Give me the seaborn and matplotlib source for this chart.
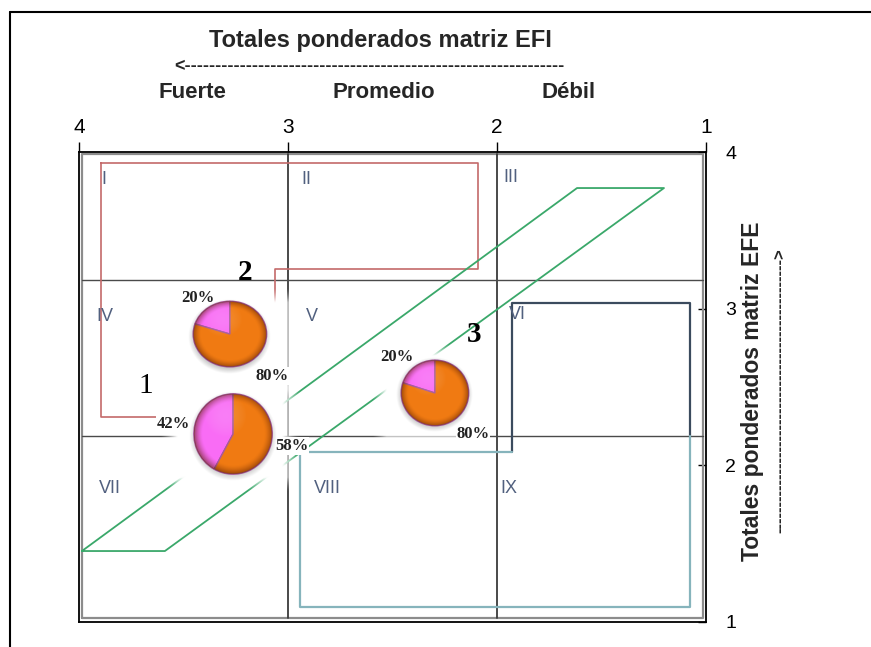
import numpy as np
import matplotlib
matplotlib.use("Agg")
import matplotlib.pyplot as plt
import seaborn as sns
from matplotlib.lines import Line2D
from matplotlib.patches import Circle

sns.set_theme(style="white")
plt.rcParams['font.family'] = ['Liberation Sans', 'DejaVu Sans']
SERIF = ['Liberation Serif', 'DejaVu Serif']

# ---- axes of the IE matrix ----
efi_ticks = [4, 3, 2, 1]          # internal factors (top, reversed)
efe_ticks = [1, 2, 3, 4]          # external factors (right)
efi_zones = ["Fuerte", "Promedio", "Débil"]

# ---- cells of the matrix ----
cell_names = ["I", "II", "III", "IV", "V", "VI", "VII", "VIII", "IX"]
cell_label_x = [3.895, 2.935, 1.969, 3.919, 2.916, 1.945, 3.904, 2.878, 1.983]
cell_label_y = [3.825, 3.825, 3.838, 2.947, 2.947, 2.960, 1.855, 1.855, 1.855]
grid_x = [3.0, 2.0]
grid_y = [3.18, 2.19]
frame_x = [3.986, 1.014]
frame_y = [1.026, 3.987]

# ---- strategy regions ----
grow_x = [3.895, 2.091, 2.091, 3.062, 3.062, 3.895, 3.895]
grow_y = [3.930, 3.930, 3.253, 3.253, 2.309, 2.309, 3.930]
hold_x = [3.986, 1.617, 1.201, 3.589, 3.986]
hold_y = [1.453, 3.770, 3.770, 1.453, 1.453]
harvest_top_x = [1.928, 1.928, 1.077, 1.077]
harvest_top_y = [2.085, 3.036, 3.036, 2.190]
harvest_low_x = [1.077, 1.077, 2.943, 2.943, 1.928]
harvest_low_y = [2.190, 1.096, 1.096, 2.085, 2.085]

# ---- positioned units (pies) ----
unit_ids = ["1", "2", "3"]
unit_x = [3.263, 3.278, 2.297]
unit_y = [2.200, 2.838, 2.462]
share_pink = [42, 20, 20]
share_orange = [58, 80, 80]
id_x = [3.679, 3.206, 2.110]
id_y = [2.506, 3.234, 2.832]
pink_lbl_x = [3.550, 3.431, 2.478]
pink_lbl_y = [2.264, 3.068, 2.691]
orange_lbl_x = [2.981, 3.077, 2.115]
orange_lbl_y = [2.123, 2.570, 2.200]

# pixel styling of the pie images
pie_rx = [40, 37.5, 34.5]
pie_ry = [41, 33.5, 33.5]
# white backing around each pie: (left, right, up, down) in px
backing = [(73, 67, 62, 58), (70, 70, 46, 70), (63, 55, 50, 53)]

W, H, DPI = 871, 647, 100
fig = plt.figure(figsize=(W / DPI, H / DPI), dpi=DPI)
fig.patch.set_facecolor('white')
ax_l, ax_r, ax_t, ax_b = 79, 706, 152, 622
ax = fig.add_axes([ax_l / W, 1 - ax_b / H, (ax_r - ax_l) / W, (ax_b - ax_t) / H])
ax.set_facecolor('white')

def line(xs, ys, color, lw, z=2):
    sns.lineplot(x=xs, y=ys, sort=False, estimator=None, color=color,
                 linewidth=lw, ax=ax, zorder=z, legend=False)

# inner frame of the pasted grid
line([frame_x[0], frame_x[1], frame_x[1], frame_x[0], frame_x[0]],
     [frame_y[0], frame_y[0], frame_y[1], frame_y[1], frame_y[0]], '#8c8c8c', 1.6)
for gx in grid_x:
    line([gx, gx], frame_y, '#3a3a3a', 1.3)
for gy in grid_y:
    line(frame_x, [gy, gy], '#4a4a4a', 1.0)

line(grow_x, grow_y, '#c46a6a', 1.2, 3)
line(hold_x, hold_y, '#3aa86a', 1.3, 3)
line(harvest_top_x, harvest_top_y, '#3b4b5e', 1.6, 3)
line(harvest_low_x, harvest_low_y, '#86b4bc', 1.6, 3)

for name, cx, cy in zip(cell_names, cell_label_x, cell_label_y):
    ax.text(cx, cy, name, color='#51607f', fontsize=13, ha='left', va='center',
            zorder=4)

ax.set_xlim(4, 1)
ax.set_ylim(1, 4)
ax.xaxis.tick_top()
ax.yaxis.tick_right()
ax.set_xticks(efi_ticks)
ax.set_xticklabels([str(t) for t in efi_ticks], fontsize=15)
ax.set_yticks(efe_ticks)
ax.set_yticklabels([str(t) for t in efe_ticks], fontsize=14)
ax.tick_params(axis='x', direction='out', length=7, width=1, color='black', pad=4,
               labelcolor='black')
ax.tick_params(axis='y', direction='in', length=6, width=1, color='black', pad=14,
               labelcolor='black')
for s in ax.spines.values():
    s.set_color('black')
    s.set_linewidth(1.3)
    s.set_visible(True)

fig.canvas.draw()
to_disp = ax.transData.transform
to_data = ax.transData.inverted().transform

# soft white backing behind each pie
def feather(n=120, m=120, edge=0.12):
    u = np.linspace(0, 1, m)
    v = np.linspace(0, 1, n)
    fu = np.clip(np.minimum(u, 1 - u) / edge, 0, 1)
    fv = np.clip(np.minimum(v, 1 - v) / edge, 0, 1)
    a = np.outer(fv, fu)
    img = np.ones((n, m, 4))
    img[..., 3] = a ** 1.3
    return img

for (px, py), (bl, br, bu, bd) in zip(zip(unit_x, unit_y), backing):
    cx, cy = to_disp((px, py))
    x0, y0 = to_data((cx - bl, cy - bd))
    x1, y1 = to_data((cx + br, cy + bu))
    ax.imshow(feather(), extent=(x0, x1, y0, y1), aspect='auto', zorder=5,
              interpolation='bilinear')
ax.set_xlim(4, 1)
ax.set_ylim(1, 4)

# pies drawn in their own small axes centred on each unit
yy, xx = np.mgrid[-1:1:200j, -1:1:200j]
yy = -yy
rr = np.sqrt(xx ** 2 + yy ** 2)
shade = np.zeros((200, 200, 4))
shade[..., 0] = 0.35
shade[..., 1] = 0.12
shade[..., 3] = 0.55 * np.clip((rr - 0.78) / 0.22, 0, 1) ** 1.5
shine = np.ones((200, 200, 4))
shine[..., 3] = 0.12 * np.clip(1 - ((xx + 0.2) ** 2 + (yy - 0.45) ** 2) / 0.3, 0, 1)

for i in range(len(unit_ids)):
    cx, cy = to_disp((unit_x[i], unit_y[i]))
    rx, ry = pie_rx[i], pie_ry[i]
    # soft drop shadow under the pie
    sax = fig.add_axes([(cx - rx - 4) / W, (cy - ry - 6) / H, (2 * rx + 8) / W, (2 * ry + 8) / H])
    sh = np.zeros((200, 200, 4))
    sh[..., 3] = 0.35 * np.clip((1.0 - rr) / 0.25, 0, 1)
    sax.imshow(sh, extent=(-1, 1, -1, 1), aspect='auto', interpolation='bilinear')
    sax.axis('off')

    pax = fig.add_axes([(cx - rx) / W, (cy - ry) / H, 2 * rx / W, 2 * ry / H])
    pax.pie([share_pink[i], share_orange[i]], colors=['#f96cf5', '#f07a12'],
            startangle=90, counterclock=True, radius=1,
            wedgeprops=dict(edgecolor='#a85a9c', linewidth=1.0))
    clip = Circle((0, 0), 1, transform=pax.transData)
    for layer in (shade, shine):
        im = pax.imshow(layer, extent=(-1, 1, -1, 1), zorder=5, interpolation='bilinear')
        im.set_clip_path(clip)
    pax.set_xlim(-1.02, 1.02)
    pax.set_ylim(-1.02, 1.02)
    pax.set_aspect('auto')
    pax.axis('off')

    ax.text(pink_lbl_x[i], pink_lbl_y[i], f"{share_pink[i]}%", family=SERIF,
            fontweight='bold', fontsize=12, ha='center', va='center', color='#222222',
            zorder=7, bbox=dict(facecolor='white', edgecolor='none', pad=0.5))
    ax.text(orange_lbl_x[i], orange_lbl_y[i], f"{share_orange[i]}%", family=SERIF,
            fontweight='bold', fontsize=12, ha='center', va='center', color='#222222',
            zorder=7, bbox=dict(facecolor='white', edgecolor='none', pad=0.5))
    ax.text(id_x[i], id_y[i], unit_ids[i], family=SERIF,
            fontweight='normal' if unit_ids[i] == "1" else 'bold',
            fontsize=21, ha='center', va='center', color='black', zorder=7)

# headings around the matrix
def ftext(x, y, s, **kw):
    fig.text(x / W, 1 - y / H, s, **kw)

ftext(380, 40, "Totales ponderados matriz EFI", ha='center', va='center',
      fontsize=17, fontweight='bold')
ftext(174, 67, "<" + "-" * 62, ha='left', va='center', fontsize=13,
      fontweight='bold')
for name, zx in zip(efi_zones, [192, 384, 569]):
    ftext(zx, 93, name, ha='center', va='center', fontsize=16, fontweight='bold')
ftext(752, 391, "Totales ponderados matriz EFE", ha='center', va='center',
      rotation=90, fontsize=16.5, fontweight='bold')
ftext(780, 391, "-" * 50 + ">", ha='center', va='center', rotation=90,
      fontsize=12, fontweight='bold')

# page border
fig.add_artist(Line2D([10 / W, 1], [1 - 12 / H, 1 - 12 / H], color='black', lw=1.5))
fig.add_artist(Line2D([10 / W, 10 / W], [1 - 12 / H, 0], color='black', lw=1.5))

fig.savefig("out.png", dpi=DPI, facecolor='white')
